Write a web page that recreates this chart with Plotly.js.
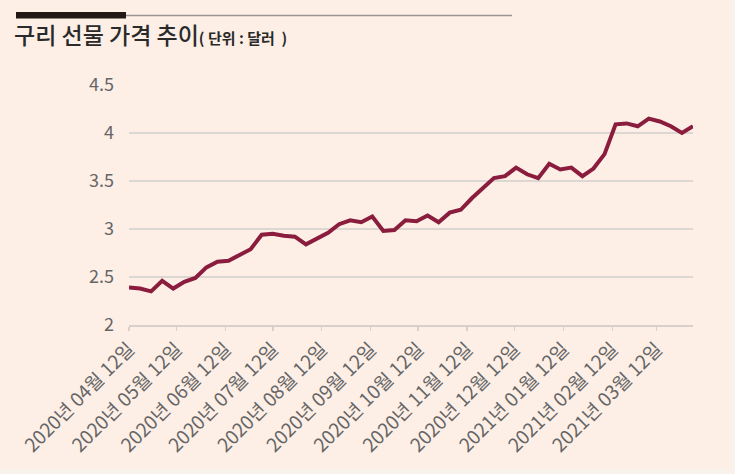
<!DOCTYPE html>
<html>
<head>
<meta charset="utf-8">
<script src="https://cdn.plot.ly/plotly-3.0.1.min.js"></script>
<style>
  html, body { margin: 0; padding: 0; background: #f8f1ec; }
  #chart { width: 735px; height: 474px; }
</style>
</head>
<body>
<div id="chart"></div>
<script>
// ── Weekly copper futures price (USD) ─────────
const WEEKS = [
  "2020-04-12", "2020-04-19", "2020-04-26", "2020-05-03", "2020-05-10",
  "2020-05-17", "2020-05-24", "2020-05-31", "2020-06-07", "2020-06-14",
  "2020-06-21", "2020-06-28", "2020-07-05", "2020-07-12", "2020-07-19",
  "2020-07-26", "2020-08-02", "2020-08-09", "2020-08-16", "2020-08-23",
  "2020-08-30", "2020-09-06", "2020-09-13", "2020-09-20", "2020-09-27",
  "2020-10-04", "2020-10-11", "2020-10-18", "2020-10-25", "2020-11-01",
  "2020-11-08", "2020-11-15", "2020-11-22", "2020-11-29", "2020-12-06",
  "2020-12-13", "2020-12-20", "2020-12-27", "2021-01-03", "2021-01-10",
  "2021-01-17", "2021-01-24", "2021-01-31", "2021-02-07", "2021-02-14",
  "2021-02-21", "2021-02-28", "2021-03-07", "2021-03-14", "2021-03-21",
  "2021-03-28", "2021-04-04",
];

const PRICES = [
  2.39, 2.38, 2.35, 2.46, 2.38, 2.45, 2.49, 2.60, 2.66, 2.67,
  2.73, 2.79, 2.94, 2.95, 2.93, 2.92, 2.84, 2.90, 2.96, 3.05,
  3.09, 3.07, 3.13, 2.98, 2.99, 3.09, 3.08, 3.14, 3.07, 3.17,
  3.20, 3.32, 3.43, 3.53, 3.55, 3.64, 3.57, 3.53, 3.68, 3.62,
  3.64, 3.55, 3.63, 3.78, 4.09, 4.10, 4.07, 4.15, 4.12, 4.07,
  4.00, 4.07,
];

const TICK_DATES = [
  "2020-04-12", "2020-05-12", "2020-06-12", "2020-07-12", "2020-08-12",
  "2020-09-12", "2020-10-12", "2020-11-12", "2020-12-12", "2021-01-12",
  "2021-02-12", "2021-03-12",
];
const TICK_LABELS = [
  "2020년 04월 12일", "2020년 05월 12일", "2020년 06월 12일", "2020년 07월 12일",
  "2020년 08월 12일", "2020년 09월 12일", "2020년 10월 12일", "2020년 11월 12일",
  "2020년 12월 12일", "2021년 01월 12일", "2021년 02월 12일", "2021년 03월 12일",
];

const Y_TICKS = [2, 2.5, 3, 3.5, 4, 4.5];
const Y_LABELS = ["2", "2.5", "3", "3.5", "4", "4.5"];

// ── Geometry helpers (pixel -> paper) ─────────
const W = 735, H = 474;
const M = { l: 129, r: 42, t: 85, b: 149 };
const PW = W - M.l - M.r;
const PH = H - M.t - M.b;
const px = (x) => (x - M.l) / PW;
const py = (y) => (H - M.b - y) / PH;

const FONT = '"Noto Sans CJK KR", "Noto Sans", sans-serif';

const trace = {
  type: "scatter",
  mode: "lines",
  x: WEEKS,
  y: PRICES,
  line: { color: "#8a1c3d", width: 4, shape: "linear" },
  hovertemplate: "%{x}<br>%{y:.2f} 달러<extra></extra>",
};

const layout = {
  width: W,
  height: H,
  margin: M,
  paper_bgcolor: "#f8f1ec",
  plot_bgcolor: "rgba(0,0,0,0)",
  showlegend: false,
  font: { family: FONT, color: "#666" },
  title: {
    text:
      '구리 선물 가격 추이<span style="font-size:15px;font-weight:bold">(&nbsp;단위&nbsp;:&nbsp;달러&nbsp;&nbsp;)</span>',
    x: 14 / W,
    xanchor: "left",
    xref: "container",
    y: 1 - 36 / H,
    yanchor: "middle",
    yref: "container",
    font: { family: FONT, size: 23, color: "#2a2a2a", weight: 500 },
  },
  xaxis: {
    type: "date",
    range: [WEEKS[0], WEEKS[WEEKS.length - 1]],
    tickmode: "array",
    tickvals: TICK_DATES,
    ticktext: TICK_LABELS,
    tickangle: -45,
    tickfont: { family: FONT, size: 19, color: "#666" },
    ticks: "outside",
    ticklen: 4,
    tickwidth: 1.5,
    tickcolor: "#d6d1cd",
    showline: true,
    linecolor: "#d6d1cd",
    linewidth: 1.5,
    showgrid: false,
    zeroline: false,
    fixedrange: true,
  },
  yaxis: {
    range: [2, 4.5],
    tickmode: "array",
    tickvals: Y_TICKS,
    ticktext: Y_LABELS,
    tickfont: { family: FONT, size: 18, color: "#666" },
    ticks: "",
    ticklabelstandoff: 14,
    showgrid: true,
    gridcolor: "#dcd7d3",
    gridwidth: 1.5,
    zeroline: false,
    showline: false,
    fixedrange: true,
  },
  shapes: [
    // inner panel
    {
      type: "rect", xref: "paper", yref: "paper", layer: "below",
      x0: px(0), x1: px(731), y0: py(0), y1: py(469),
      fillcolor: "#fdefe6", line: { width: 0 },
    },
    // header rule
    {
      type: "line", xref: "paper", yref: "paper",
      x0: px(16), x1: px(512), y0: py(15.5), y1: py(15.5),
      line: { color: "#9a9593", width: 1.5 },
    },
    {
      type: "rect", xref: "paper", yref: "paper",
      x0: px(16), x1: px(126), y0: py(12), y1: py(18.5),
      fillcolor: "#231815", line: { width: 0 },
    },
  ],
};

Plotly.newPlot("chart", [trace], layout, { displayModeBar: false, staticPlot: true });
</script>
</body>
</html>
